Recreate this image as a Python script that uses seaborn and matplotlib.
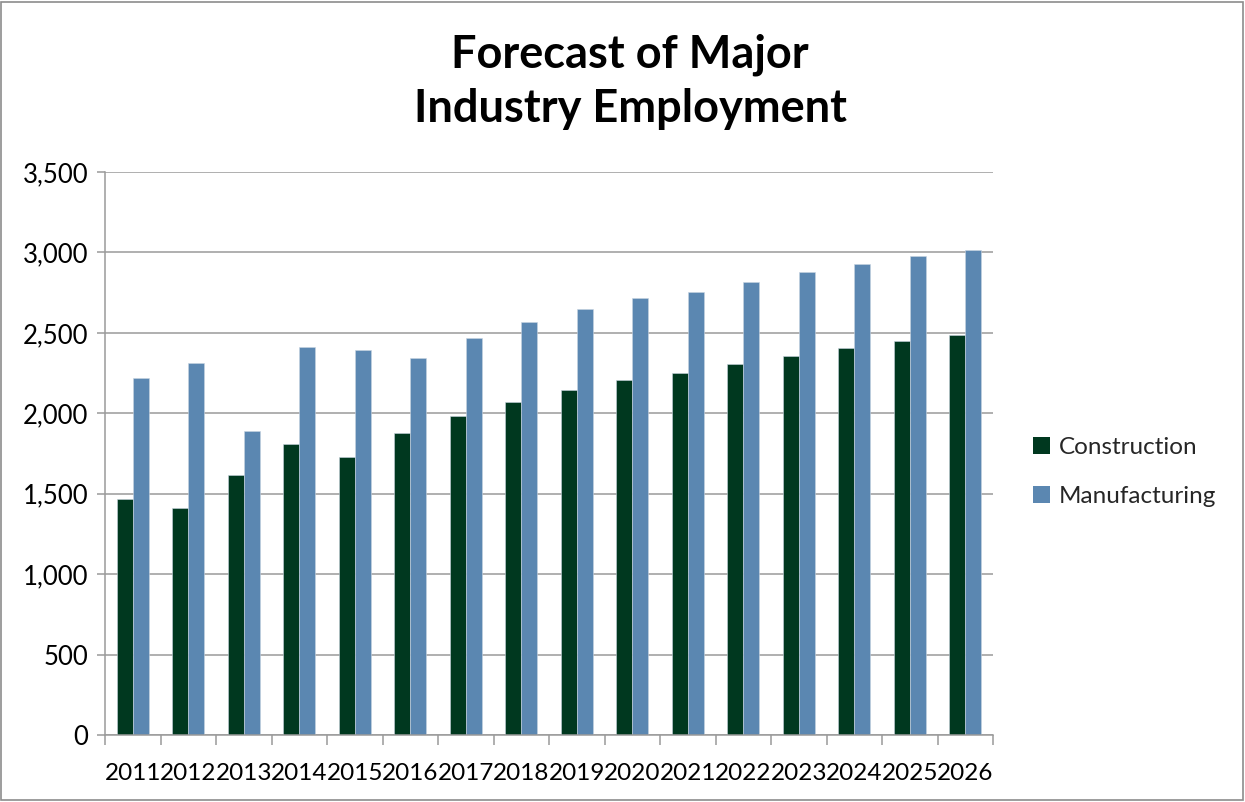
import matplotlib
matplotlib.use("Agg")
import matplotlib.pyplot as plt
import matplotlib.ticker as mticker
from matplotlib.patches import Rectangle, Patch
import seaborn as sns
import pandas as pd

years = [str(y) for y in range(2011, 2027)]
construction = [1465, 1410, 1617, 1808, 1727, 1877, 1982, 2069, 2142, 2208,
                2250, 2308, 2357, 2407, 2451, 2488]
manufacturing = [2219, 2312, 1889, 2409, 2393, 2343, 2467, 2565, 2648, 2716,
                 2751, 2818, 2878, 2930, 2975, 3015]
series_names = ["Construction", "Manufacturing"]
colors = ["#00381F", "#5B87B1"]
title_text = "Forecast of Major\nIndustry Employment"

df = pd.DataFrame({
    "year": years * 2,
    "value": construction + manufacturing,
    "series": [series_names[0]] * len(years) + [series_names[1]] * len(years),
})

sns.set_theme(style="white")
plt.rcParams['font.family'] = ['Lato', 'DejaVu Sans']

W, H = 1245, 802
fig = plt.figure(figsize=(W / 100, H / 100), dpi=100)
ax = fig.add_axes([105 / W, 1 - 735 / H, (993 - 105) / W, (735 - 172) / H])

sns.barplot(data=df, x="year", y="value", hue="series", palette=colors,
            width=0.58, gap=0, ax=ax, legend=False, saturation=1,
            edgecolor="#C8D4E0", linewidth=0.4)

ax.set_xlim(-0.5, len(years) - 0.5)
ax.set_ylim(0, 3500)
ax.yaxis.set_major_locator(mticker.MultipleLocator(500))
ax.yaxis.set_major_formatter(mticker.FuncFormatter(lambda v, p: f"{int(v):,}"))
ax.set_xlabel("")
ax.set_ylabel("")

ax.grid(axis="y", color="#9A9A9A", linewidth=1.1)
ax.grid(axis="x", visible=False)
ax.set_axisbelow(True)

for s in ["top", "right"]:
    ax.spines[s].set_visible(False)
for s in ["left", "bottom"]:
    ax.spines[s].set_visible(True)
    ax.spines[s].set_color("#9A9A9A")
    ax.spines[s].set_linewidth(1.1)

ax.tick_params(axis="y", which="major", length=6, width=1.1, color="#9A9A9A",
               direction="out", left=True, labelsize=18.5, labelcolor="black", pad=6)
ax.tick_params(axis="x", which="major", length=0, labelsize=17.5,
               labelcolor="black", pad=20)
ax.set_xticks([i + 0.5 for i in range(-1, len(years))], minor=True)
ax.tick_params(axis="x", which="minor", length=7, width=1.1, color="#9A9A9A",
               direction="out", bottom=True)

fig.text(630 / W, 1 - 82 / H, title_text, ha="center", va="center",
         fontsize=32.5, fontweight="bold", color="black", linespacing=1.35)

handles = [Patch(facecolor=c, edgecolor="none") for c in colors]
fig.legend(handles, series_names, loc="center left",
           bbox_to_anchor=(1011 / W, 1 - 472 / H), frameon=False,
           fontsize=17.5, handlelength=0.7, handleheight=0.7,
           handletextpad=0.35, labelspacing=1.12)

fig.patches.append(Rectangle((1 / W, 2 / H), (W - 3) / W, (H - 4) / H,
                             transform=fig.transFigure, fill=False,
                             edgecolor="#8C8C8C", linewidth=1.2))

fig.savefig("out.png", dpi=100)
